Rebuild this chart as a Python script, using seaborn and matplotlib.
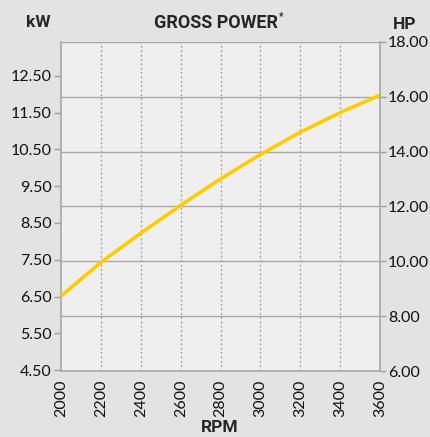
import numpy as np
import pandas as pd
import matplotlib.pyplot as plt
import seaborn as sns

# data (kW at each rpm)
rpm = [2000, 2200, 2400, 2600, 2800, 3000, 3200, 3400, 3600]
power_kw = [6.51, 7.43, 8.22, 8.98, 9.70, 10.36, 10.97, 11.50, 11.98]
kw_ticks = [4.5, 5.5, 6.5, 7.5, 8.5, 9.5, 10.5, 11.5, 12.5]
hp_ticks = [6, 8, 10, 12, 14, 16, 18]

KW_PER_HP = 0.7457
df = pd.DataFrame({"RPM": rpm, "kW": power_kw})

sns.set_theme(style="white")
plt.rcParams['font.family'] = ['Lato', 'DejaVu Sans']

fig = plt.figure(figsize=(4.30, 4.37), dpi=100, facecolor="#e3e3e3")
ax = fig.add_axes([0.142, 0.151, 0.742, 0.753])
ax.set_facecolor("#efefef")

sns.lineplot(data=df, x="RPM", y="kW", ax=ax, color="#ffcc00", linewidth=2.6, zorder=5)

ax.set_xlim(2000, 3600)
ax.set_ylim(6 * KW_PER_HP, 18 * KW_PER_HP)
ax.set_xticks(rpm)
ax.set_xticklabels([str(r) for r in rpm], rotation=90, fontsize=11.5)
ax.set_yticks(kw_ticks)
ax.set_yticklabels([f"{v:.2f}" for v in kw_ticks], fontsize=11.5)
ax.set_xlabel("")
ax.set_ylabel("")

# vertical dotted grid
for r in rpm[1:-1]:
    ax.axvline(r, color="#9a9a9a", linestyle=(0, (1.5, 2)), linewidth=0.9, zorder=1)

# right HP axis
ax2 = ax.twinx()
ax2.set_ylim(6, 18)
ax2.set_yticks(hp_ticks)
ax2.set_yticklabels([f"{v:.2f}" for v in hp_ticks], fontsize=11.5)
for h in hp_ticks[1:]:
    ax.axhline(h * KW_PER_HP, color="#a8a8a8", linewidth=1.0, zorder=1)

for a in (ax, ax2):
    for s in a.spines.values():
        s.set_visible(False)
    a.tick_params(colors="#111111", length=5, width=1, pad=1.5)
    a.tick_params(axis="both", which="major", color="#a0a0a0")
ax.spines['left'].set_visible(True)
ax.spines['bottom'].set_visible(True)
ax2.spines['right'].set_visible(True)
for s in (ax.spines['left'], ax.spines['bottom'], ax2.spines['right']):
    s.set_color("#a8a8a8")
    s.set_linewidth(1.2)
ax.tick_params(axis="x", length=0, pad=6)
ax.tick_params(axis="y", left=True, length=5)
ax2.tick_params(axis="y", right=True, length=4)

cond = ['Roboto', 'DejaVu Sans']
fig.text(0.088, 0.948, "kW", fontsize=12.5, fontweight="bold", family=cond, ha="center", va="center")
fig.text(0.940, 0.945, "HP", fontsize=12.5, fontweight="bold", family=cond, ha="center", va="center")
fig.text(0.503, 0.948, "GROSS POWER", fontsize=13, fontweight="bold", family=cond, ha="center", va="center")
fig.text(0.648, 0.964, "*", fontsize=7, fontweight="bold", family=cond, ha="left", va="center")
fig.text(0.512, 0.021, "RPM", fontsize=12.5, fontweight="bold", family=cond, ha="center", va="center")

plt.savefig("out.png", dpi=100, facecolor=fig.get_facecolor())
